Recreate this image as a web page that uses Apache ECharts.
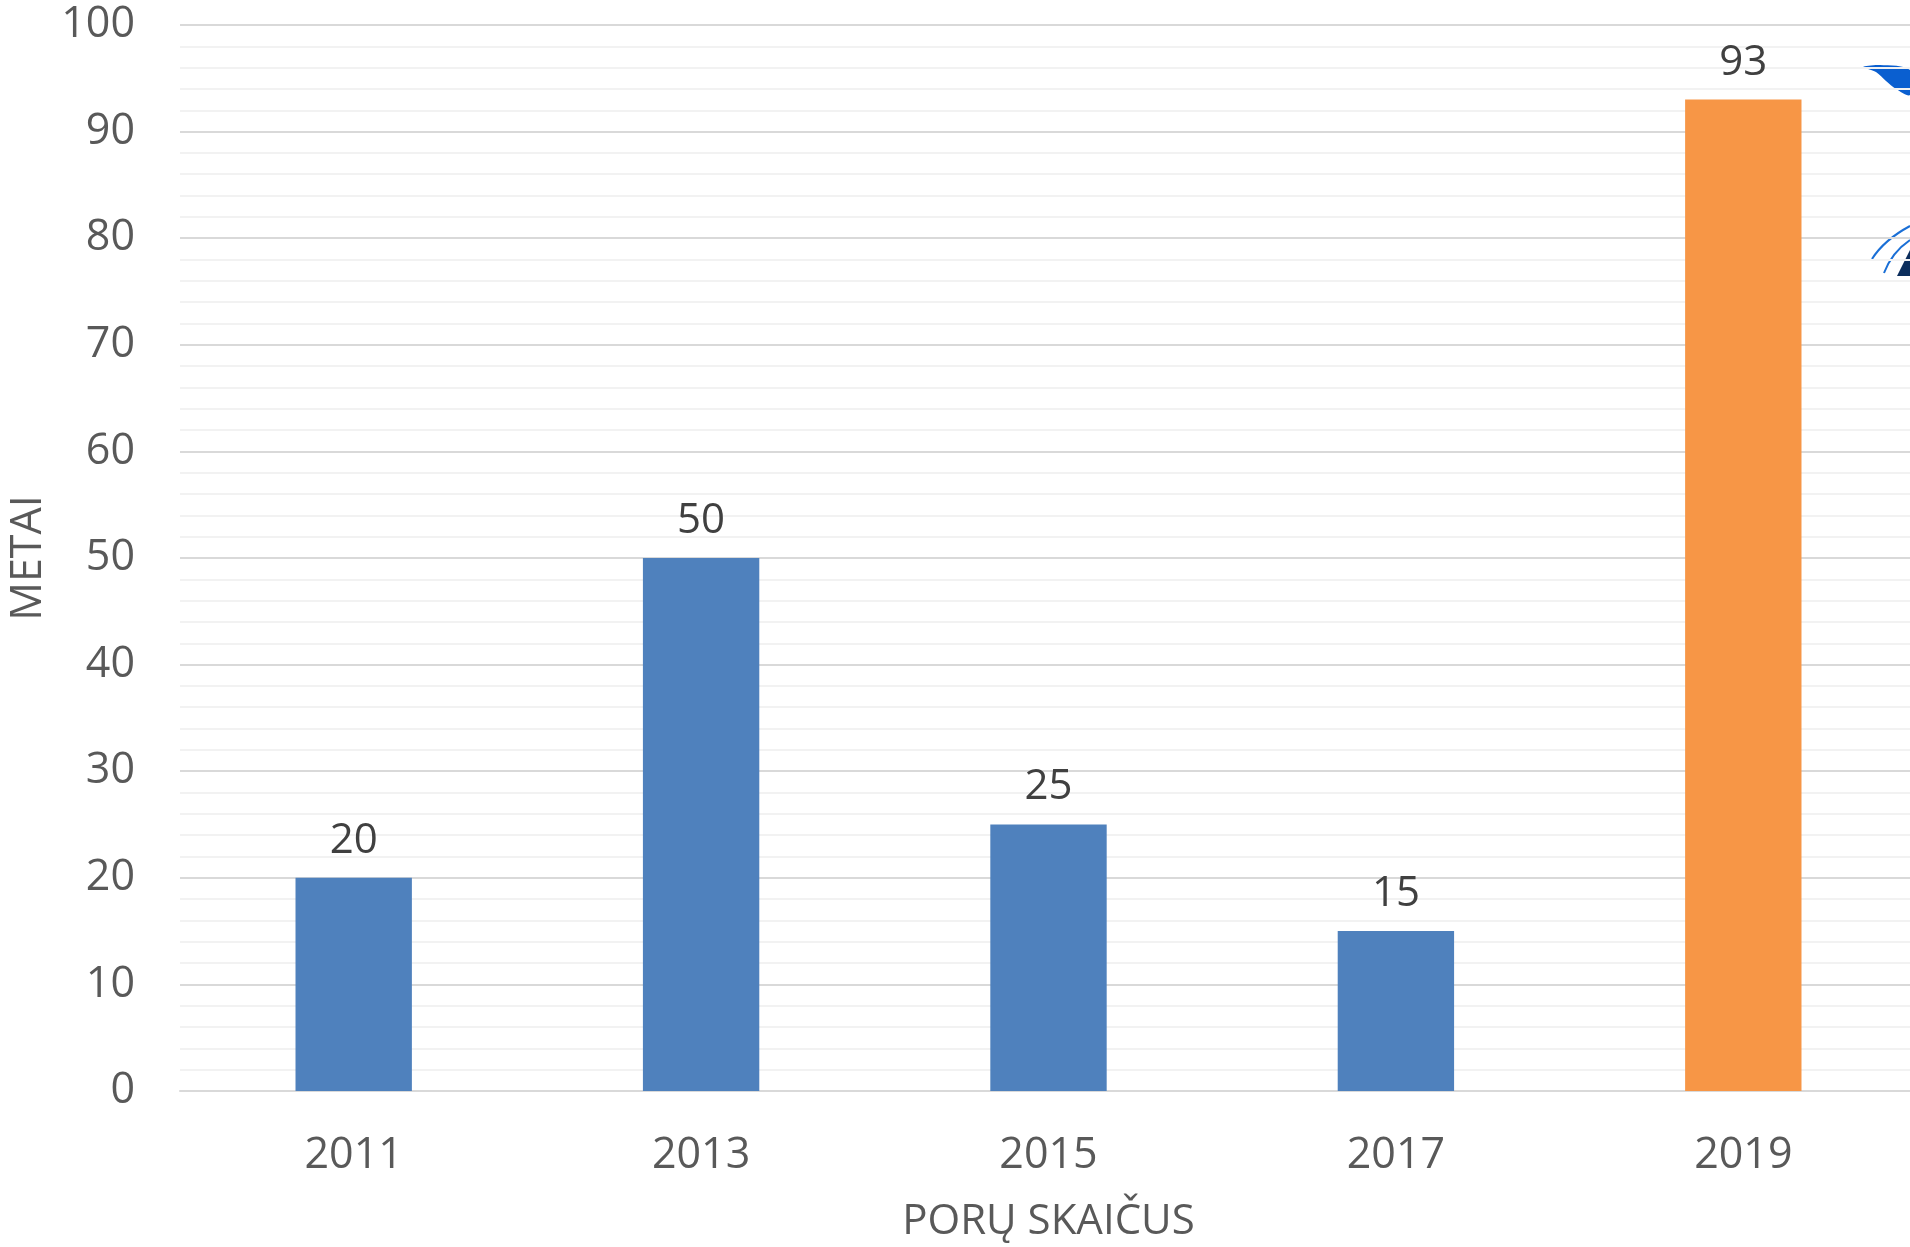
<!DOCTYPE html>
<html>
<head>
<meta charset="utf-8">
<script src="https://cdn.jsdelivr.net/npm/echarts@6/dist/echarts.min.js"></script>
<style>
  html, body { margin: 0; padding: 0; background: #fff; }
  #chart { width: 1910px; height: 1247px; }
</style>
</head>
<body>
<div id="chart"></div>
<script>
// data
const years = ["2011", "2013", "2015", "2017", "2019"];
const pairs = [20, 50, 25, 15, 93];
const yTicks = [0, 10, 20, 30, 40, 50, 60, 70, 80, 90, 100];

const blue = "#4f81bd";
const orange = "#f79646";
const font = "'Open Sans', 'Noto Sans', sans-serif";

const chart = echarts.init(document.getElementById("chart"));

chart.setOption({
    animation: false,
    grid: {
        left: 180,
        top: 25,
        bottom: 156,
        width: 1737,
        outerBoundsMode: "none",
    },
    xAxis: {
        type: "category",
        data: years,
        name: "PORŲ SKAIČUS",
        nameLocation: "middle",
        nameGap: 110,
        nameTextStyle: { fontSize: 42, color: "#595959", fontFamily: font },
        axisLine: { lineStyle: { color: "#d9d9d9", width: 2 } },
        axisTick: { show: false },
        axisLabel: { fontSize: 43, color: "#595959", fontFamily: font, margin: 43 },
    },
    yAxis: {
        type: "value",
        min: yTicks[0],
        max: yTicks[yTicks.length - 1],
        interval: yTicks[1] - yTicks[0],
        name: "METAI",
        nameLocation: "middle",
        nameRotate: 90,
        nameGap: 127,
        nameTextStyle: { fontSize: 43, color: "#595959", fontFamily: font },
        axisLine: { show: false },
        axisTick: { show: false },
        axisLabel: {
            fontSize: 43,
            color: "#595959",
            fontFamily: font,
            margin: 45,
            padding: [5, 0, 0, 0],
        },
        splitLine: { lineStyle: { color: "#d9d9d9", width: 2 } },
        minorTick: { show: false, splitNumber: 5 },
        minorSplitLine: { show: true, lineStyle: { color: "#f2f2f2", width: 2 } },
    },
    series: [
        {
            type: "bar",
            data: pairs,
            barWidth: "33.5%",
            itemStyle: {
                color: (p) => (p.dataIndex === pairs.length - 1 ? orange : blue),
            },
            label: {
                show: true,
                position: "top",
                distance: 16,
                fontSize: 42,
                color: "#404040",
                fontFamily: font,
            },
        },
    ],
    // partial logo cut off at the right edge
    graphic: [
        {
            type: "polygon",
            shape: {
                points: [[1863, 67], [1880, 65], [1910, 70], [1910, 95], [1896, 89], [1886, 81], [1876, 72]],
                smooth: 0.3,
            },
            style: { fill: "#0a5fd0" },
        },
        {
            type: "bezierCurve",
            shape: { x1: 1872, y1: 259, x2: 1910, y2: 226, cpx1: 1884, cpy1: 240 },
            style: { stroke: "#1a6fd6", lineWidth: 2, fill: null },
        },
        {
            type: "bezierCurve",
            shape: { x1: 1884, y1: 273, x2: 1910, y2: 240, cpx1: 1892, cpy1: 252 },
            style: { stroke: "#1a6fd6", lineWidth: 2, fill: null },
        },
        {
            type: "polygon",
            shape: { points: [[1897, 276], [1910, 250], [1910, 276]] },
            style: { fill: "#0b2d5c" },
        },
    ],
});
</script>
</body>
</html>
